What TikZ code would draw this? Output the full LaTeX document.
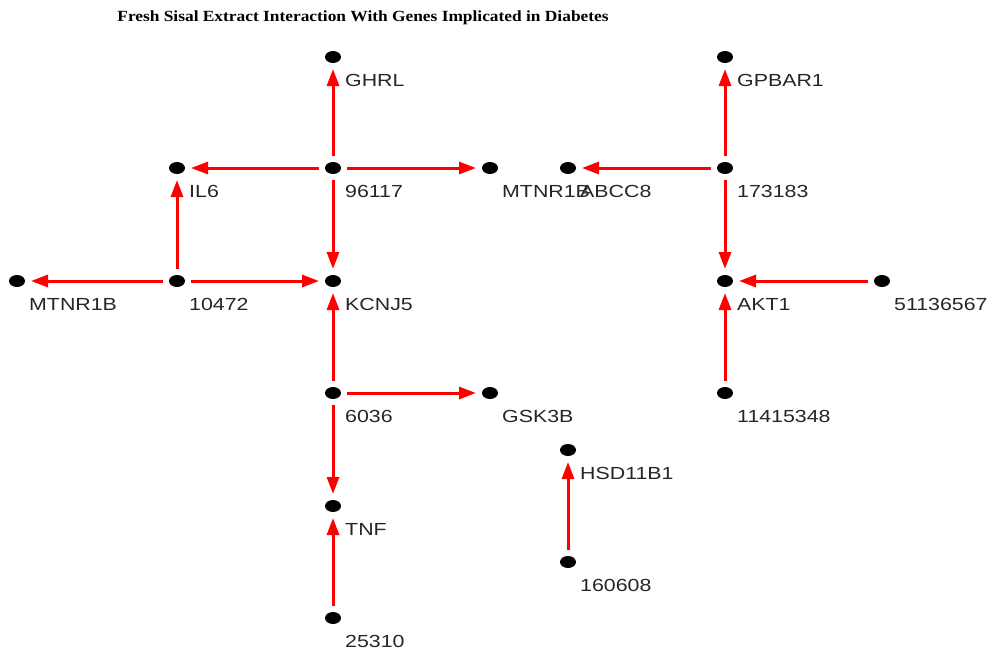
\documentclass[tikz,border=0pt]{standalone}
\usepackage{fontspec}
\setmainfont{Liberation Sans}
\newfontfamily\titlefont{Liberation Serif}
\usetikzlibrary{shapes.geometric,arrows.meta}
\newcommand\gene[4]{\node[dot] (#1) at (#2,#3) {}; \node[lbl] (#1-l) at (#2+12,#3+29) {\scalebox{1.22}[1]{#4}};}
\begin{document}
\begin{tikzpicture}[x=1pt,y=-1pt,
 dot/.style={ellipse,fill=black,inner sep=0pt,minimum width=16pt,minimum height=12pt,outer sep=6pt},
 link/.style={draw=red,line width=3pt,-{Triangle[length=17pt,width=12pt]}},
 lbl/.style={anchor=base west,inner sep=0pt,font=\fontsize{17.5}{18}\selectfont,text=black!85}]
\useasboundingbox (0,0) rectangle (992,649);
\node[font=\titlefont\bfseries\fontsize{15.5}{15.5}\selectfont] (title) at (363,18) {\scalebox{1.12}[1]{Fresh Sisal Extract Interaction With Genes Implicated in Diabetes}};
\gene{ghrl}{333}{57}{GHRL}
\gene{n96117}{333}{168}{96117}
\gene{il6}{177}{168}{IL6}
\gene{mtnrA}{490}{168}{MTNR1B}
\gene{abcc8}{568}{168}{ABCC8}
\gene{n173183}{725}{168}{173183}
\gene{gpbar1}{725}{57}{GPBAR1}
\gene{n10472}{177}{281}{10472}
\gene{mtnrB}{17}{281}{MTNR1B}
\gene{kcnj5}{333}{281}{KCNJ5}
\gene{akt1}{725}{281}{AKT1}
\gene{n51136567}{882}{281}{51136567}
\gene{n6036}{333}{393}{6036}
\gene{gsk3b}{490}{393}{GSK3B}
\gene{n11415348}{725}{393}{11415348}
\gene{hsd}{568}{450}{HSD11B1}
\gene{n160608}{568}{562}{160608}
\gene{tnf}{333}{506}{TNF}
\gene{n25310}{333}{618}{25310}
\draw[link] (n96117) -- (ghrl);
\draw[link] (n96117) -- (il6);
\draw[link] (n96117) -- (mtnrA);
\draw[link] (n96117) -- (kcnj5);
\draw[link] (n10472) -- (il6);
\draw[link] (n10472) -- (mtnrB);
\draw[link] (n10472) -- (kcnj5);
\draw[link] (n6036) -- (kcnj5);
\draw[link] (n6036) -- (gsk3b);
\draw[link] (n6036) -- (tnf);
\draw[link] (n25310) -- (tnf);
\draw[link] (n173183) -- (gpbar1);
\draw[link] (n173183) -- (abcc8);
\draw[link] (n173183) -- (akt1);
\draw[link] (n51136567) -- (akt1);
\draw[link] (n11415348) -- (akt1);
\draw[link] (n160608) -- (hsd);
\end{tikzpicture}
\end{document}
